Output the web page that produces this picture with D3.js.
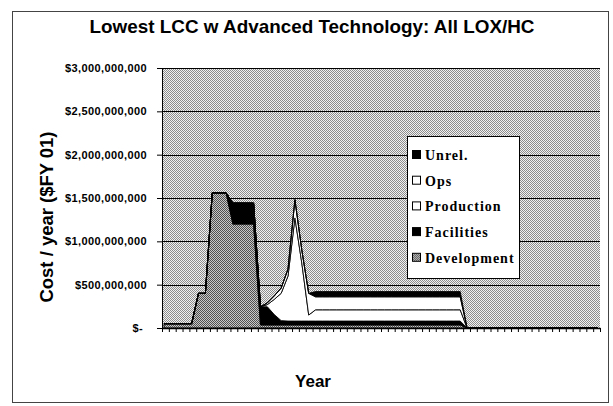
<!DOCTYPE html>
<html>
<head>
<meta charset="utf-8">
<script src="https://cdn.jsdelivr.net/npm/d3@7"></script>
<style>
  body { margin: 0; background: #fff; }
  svg { display: block; }
</style>
</head>
<body>
<div id="chart"></div>
<script>
// categories (fiscal years, not labelled on the chart)
var years = [2002, 2003, 2004, 2005, 2006, 2007, 2008, 2009, 2010, 2011,
             2012, 2013, 2014, 2015, 2016, 2017, 2018, 2019, 2020, 2021,
             2022, 2023, 2024, 2025, 2026, 2027, 2028, 2029, 2030, 2031,
             2032, 2033, 2034, 2035, 2036, 2037, 2038, 2039, 2040, 2041,
             2042, 2043, 2044, 2045, 2046, 2047, 2048, 2049, 2050, 2051,
             2052, 2053, 2054, 2055, 2056, 2057, 2058, 2059, 2060, 2061,
             2062, 2063, 2064, 2065];

// cost per year, $M (FY01)
var development = [50, 50, 50, 50, 50, 400, 400, 1560, 1560, 1560,
                   1200, 1200, 1200, 1200, 35, 35, 35, 35, 35, 35,
                   35, 35, 35, 35, 35, 35, 35, 35, 35, 35,
                   35, 35, 35, 35, 35, 35, 35, 35, 35, 35,
                   35, 35, 35, 35, 0, 0, 0, 0, 0, 0,
                   0, 0, 0, 0, 0, 0, 0, 0, 0, 0,
                   0, 0, 0, 0];
var facilities = [0, 0, 0, 0, 0, 0, 0, 0, 0, 0,
                  240, 240, 240, 240, 210, 210, 120, 50, 45, 45,
                  45, 45, 45, 45, 45, 45, 45, 45, 45, 45,
                  45, 45, 45, 45, 45, 45, 45, 45, 45, 45,
                  45, 45, 45, 45, 0, 0, 0, 0, 0, 0,
                  0, 0, 0, 0, 0, 0, 0, 0, 0, 0,
                  0, 0, 0, 0];
var production = [0, 0, 0, 0, 0, 0, 0, 0, 0, 0,
                  0, 0, 0, 0, 0, 25, 175, 315, 520, 1190,
                  670, 70, 130, 130, 130, 130, 130, 130, 130, 130,
                  130, 130, 130, 130, 130, 130, 130, 130, 130, 130,
                  130, 130, 130, 130, 0, 0, 0, 0, 0, 0,
                  0, 0, 0, 0, 0, 0, 0, 0, 0, 0,
                  0, 0, 0, 0];
var ops = [0, 0, 0, 0, 0, 0, 0, 0, 0, 0,
           0, 0, 0, 0, 0, 20, 40, 60, 80, 210,
           150, 250, 150, 150, 150, 150, 150, 150, 150, 150,
           150, 150, 150, 150, 150, 150, 150, 150, 150, 150,
           150, 150, 150, 150, 0, 0, 0, 0, 0, 0,
           0, 0, 0, 0, 0, 0, 0, 0, 0, 0,
           0, 0, 0, 0];
var unrel = [0, 0, 0, 0, 0, 0, 0, 0, 0, 0,
             0, 0, 0, 0, 0, 0, 0, 0, 0, 0,
             0, 0, 60, 60, 60, 60, 60, 60, 60, 60,
             60, 60, 60, 60, 60, 60, 60, 60, 60, 60,
             60, 60, 60, 60, 0, 0, 0, 0, 0, 0,
             0, 0, 0, 0, 0, 0, 0, 0, 0, 0,
             0, 0, 0, 0];

var yTicks = [0, 500, 1000, 1500, 2000, 2500, 3000];
var seriesKeys = ['development', 'facilities', 'production', 'ops', 'unrel'];
var legendKeys = ['unrel', 'ops', 'production', 'facilities', 'development'];
var legendLabels = ['Unrel.', 'Ops', 'Production', 'Facilities', 'Development'];

var width = 613, height = 406;
var plot = { left: 162, right: 600, top: 68, bottom: 328 };

var rows = years.map(function (yr, i) {
  return { year: yr, development: development[i], facilities: facilities[i],
           production: production[i], ops: ops[i], unrel: unrel[i] };
});

var svg = d3.select('#chart').append('svg')
  .attr('width', width).attr('height', height);

// dithered fills, like the scanned original
var defs = svg.append('defs');
function checker(id, light, dark) {
  var p = defs.append('pattern').attr('id', id)
    .attr('patternUnits', 'userSpaceOnUse').attr('width', 2).attr('height', 2);
  p.append('rect').attr('width', 2).attr('height', 2).attr('fill', light);
  p.append('rect').attr('width', 1).attr('height', 1).attr('fill', dark);
  p.append('rect').attr('x', 1).attr('y', 1).attr('width', 1).attr('height', 1).attr('fill', dark);
}
checker('bgPat', '#f2f2f2', '#8c8c8c');
checker('devPat', '#c8c8c8', '#505050');

var fills = { development: 'url(#devPat)', facilities: '#000', production: '#fff', ops: '#fff', unrel: '#000' };

// chart border
svg.append('rect')
  .attr('x', 12.5).attr('y', 11.5).attr('width', 596).attr('height', 391)
  .attr('fill', '#fff').attr('stroke', '#444');

var x = d3.scalePoint().domain(years).range([plot.left, plot.right]).padding(0.3);
var y = d3.scaleLinear().domain([0, 3000]).range([plot.bottom, plot.top]);

// plot background
svg.append('rect')
  .attr('x', plot.left).attr('y', plot.top)
  .attr('width', plot.right - plot.left).attr('height', plot.bottom - plot.top)
  .attr('fill', 'url(#bgPat)');

// gridlines
svg.append('g').selectAll('line')
  .data(yTicks.filter(function (d) { return d > 0; }))
  .enter().append('line')
  .attr('x1', plot.left).attr('x2', plot.right)
  .attr('y1', function (d) { return Math.round(y(d)) + 0.5; })
  .attr('y2', function (d) { return Math.round(y(d)) + 0.5; })
  .attr('stroke', '#000').attr('stroke-width', 1);

// stacked areas
var stacked = d3.stack().keys(seriesKeys)(rows);
var area = d3.area()
  .x(function (d) { return x(d.data.year); })
  .y0(function (d) { return y(d[0]); })
  .y1(function (d) { return y(d[1]); });

svg.append('g').selectAll('path')
  .data(stacked)
  .enter().append('path')
  .attr('d', area)
  .attr('fill', function (d) { return fills[d.key]; })
  .attr('stroke', '#000')
  .attr('stroke-width', 0.9)
  .attr('stroke-linejoin', 'miter');

// y axis
var yAxis = d3.axisLeft(y)
  .tickValues(yTicks)
  .tickSize(5)
  .tickSizeOuter(0)
  .tickPadding(10)
  .tickFormat(function (d) {
    return d === 0 ? '$-' : '$' + d3.format(',')(d * 1e6);
  });
var gy = svg.append('g')
  .attr('transform', 'translate(' + plot.left + ',0)')
  .call(yAxis);
gy.select('.domain').attr('stroke', '#000');
gy.selectAll('.tick line').attr('stroke', '#000');
gy.selectAll('.tick text')
  .attr('font-family', '"Liberation Sans", Arial, sans-serif')
  .attr('font-weight', 'bold')
  .attr('font-size', 11)
  .attr('letter-spacing', '0.4px')
  .attr('fill', '#000')
  .attr('dx', function (d) { return d === 0 ? -4 : 0; });

// x axis: tick marks at category boundaries, no labels
var xb = d3.scaleLinear().domain([0, years.length]).range([plot.left, plot.right]);
var gx = svg.append('g')
  .attr('transform', 'translate(0,' + plot.bottom + ')')
  .call(d3.axisBottom(xb)
    .tickValues(d3.range(years.length + 1))
    .tickFormat('')
    .tickSize(4)
    .tickSizeOuter(0));
gx.select('.domain').attr('stroke', '#000').attr('stroke-width', 1.5);
gx.selectAll('.tick line').attr('stroke', '#000');

// titles
svg.append('text')
  .attr('x', 312).attr('y', 33)
  .attr('text-anchor', 'middle')
  .attr('font-family', '"Liberation Sans", Arial, sans-serif')
  .attr('font-weight', 'bold')
  .attr('font-size', 19)
  .attr('textLength', 445)
  .attr('lengthAdjust', 'spacingAndGlyphs')
  .text('Lowest LCC w Advanced Technology: All LOX/HC');

svg.append('text')
  .attr('transform', 'translate(53,217) rotate(-90)')
  .attr('text-anchor', 'middle')
  .attr('font-family', '"Liberation Sans", Arial, sans-serif')
  .attr('font-weight', 'bold')
  .attr('font-size', 18)
  .attr('textLength', 171)
  .attr('lengthAdjust', 'spacingAndGlyphs')
  .text('Cost / year ($FY 01)');

svg.append('text')
  .attr('x', 313).attr('y', 387)
  .attr('text-anchor', 'middle')
  .attr('font-family', '"Liberation Sans", Arial, sans-serif')
  .attr('font-weight', 'bold')
  .attr('font-size', 17)
  .text('Year');

// legend
var legend = svg.append('g');
legend.append('rect')
  .attr('x', 407.5).attr('y', 136.5).attr('width', 112).attr('height', 142)
  .attr('fill', '#fff').attr('stroke', '#000');

var items = legend.selectAll('g.item')
  .data(legendKeys)
  .enter().append('g')
  .attr('class', 'item')
  .attr('transform', function (d, i) { return 'translate(412,' + (155 + i * 25.7) + ')'; });

items.append('rect')
  .attr('x', 0.5).attr('y', -4.5).attr('width', 8).attr('height', 8)
  .attr('fill', function (d) { return fills[d]; })
  .attr('stroke', '#000');

items.append('text')
  .attr('x', 13).attr('dy', '0.35em')
  .attr('font-family', '"Liberation Serif", "Times New Roman", serif')
  .attr('font-weight', 'bold')
  .attr('font-size', 14)
  .attr('letter-spacing', '1px')
  .text(function (d, i) { return legendLabels[i]; });
</script>
</body>
</html>
